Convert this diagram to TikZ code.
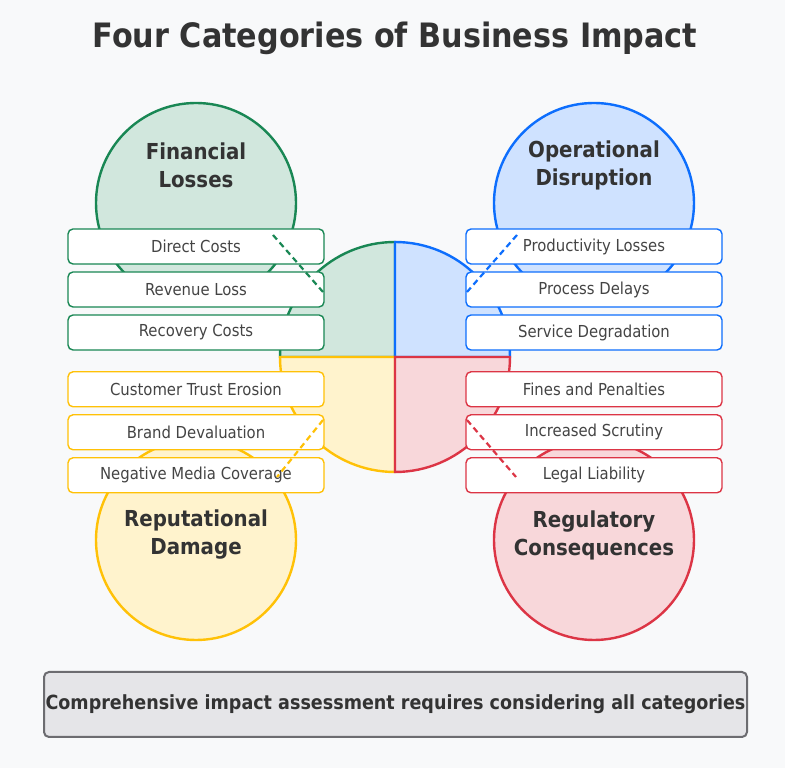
\documentclass[tikz,border=0pt]{standalone}
\usepackage{fontspec}
\setmainfont{DejaVu Sans Condensed}
\usepackage{xcolor}
\usetikzlibrary{positioning}
\definecolor{bgc}{HTML}{F8F9FA}
\definecolor{ink}{HTML}{333333}
\definecolor{txt}{HTML}{444444}
\definecolor{finln}{HTML}{198754}
\definecolor{finbg}{HTML}{D1E7DD}
\definecolor{opsln}{HTML}{0D6EFD}
\definecolor{opsbg}{HTML}{CFE2FF}
\definecolor{repln}{HTML}{FFC107}
\definecolor{repbg}{HTML}{FFF3CD}
\definecolor{regln}{HTML}{DC3545}
\definecolor{regbg}{HTML}{F8D7DA}
\definecolor{notebg}{HTML}{E5E5E8}
\definecolor{noteln}{HTML}{6C6C70}
\tikzset{
  cat/.style={circle,line width=2.4pt,minimum size=200pt,inner sep=0pt},
  lbl/.style={align=center,text=ink,font=\bfseries\fontsize{22}{28}\selectfont},
  itm/.style={draw,rounded corners=5pt,fill=white,line width=1.4pt,inner sep=0pt,
              minimum width=256pt,minimum height=35pt,text=txt,
              font=\fontsize{16.5}{18}\selectfont},
  sl/.style={line width=2.4pt},
  dl/.style={line width=2.2pt,dash pattern=on 6pt off 4pt},
}
\begin{document}
\begin{tikzpicture}[x=1pt,y=1pt,node distance=6.6pt]
\fill[bgc] (0,0) rectangle (785,768);
\useasboundingbox (0,0) rectangle (785,768);
% title
\node[text=ink,font=\bfseries\fontsize{33.6}{40}\selectfont] (title) at (395,730)
  {Four Categories of Business Impact};
% category circles
\node[cat,draw=finln,fill=finbg] (fin) at (196,565) {};
\node[cat,draw=opsln,fill=opsbg] (ops) at (594,565) {};
\node[cat,draw=repln,fill=repbg] (rep) at (196,228) {};
\node[cat,draw=regln,fill=regbg] (reg) at (594,228) {};
\node[lbl] (finl) at (196,603) {Financial\\Losses};
\node[lbl] (opsl) at (594,603) {Operational\\Disruption};
\node[lbl] (repl) at (196,233) {Reputational\\Damage};
\node[lbl] (regl) at (594,233) {Regulatory\\Consequences};
% central circle, one quarter per category
\coordinate (hub) at (395,411);
\draw[sl,draw=finln,fill=finbg] (hub) -- ++(180:115) arc[start angle=180,end angle=90,radius=115] -- cycle;
\draw[sl,draw=opsln,fill=opsbg] (hub) -- ++(90:115) arc[start angle=90,end angle=0,radius=115] -- cycle;
\draw[sl,draw=repln,fill=repbg] (hub) -- ++(180:115) arc[start angle=180,end angle=270,radius=115] -- cycle;
\draw[sl,draw=regln,fill=regbg] (hub) -- ++(270:115) arc[start angle=270,end angle=360,radius=115] -- cycle;
% impact items
\node[itm,draw=finln] (direct) at (196,521.5) {Direct Costs};
\node[itm,draw=finln,below=of direct] (revenue) {Revenue Loss};
\node[itm,draw=finln,below=of revenue] (recovery) {Recovery Costs};
\node[itm,draw=repln,below=20.4pt of recovery] (trust) {Customer Trust Erosion};
\node[itm,draw=repln,below=of trust] (brand) {Brand Devaluation};
\node[itm,draw=repln,below=of brand] (media) {Negative Media Coverage};
\node[itm,draw=opsln,right=140.6pt of direct] (product) {Productivity Losses};
\node[itm,draw=opsln,below=of product] (delay) {Process Delays};
\node[itm,draw=opsln,below=of delay] (service) {Service Degradation};
\node[itm,draw=regln,below=20.4pt of service] (fines) {Fines and Penalties};
\node[itm,draw=regln,below=of fines] (scrutiny) {Increased Scrutiny};
\node[itm,draw=regln,below=of scrutiny] (legal) {Legal Liability};
% dashed links
\coordinate (finA) at (273,533);
\coordinate (finB) at (323,476);
\coordinate (opsA) at (517,533);
\coordinate (opsB) at (467,476);
\coordinate (repA) at (323,348);
\coordinate (repB) at (277,291);
\coordinate (regA) at (467,348);
\coordinate (regB) at (516,291);
\draw[dl,finln] (finA) -- (finB);
\draw[dl,opsln] (opsA) -- (opsB);
\draw[dl,repln] (repA) -- (repB);
\draw[dl,regln] (regA) -- (regB);
% summary
\node[draw=noteln,fill=notebg,line width=2pt,rounded corners=5pt,inner sep=0pt,
      minimum width=703pt,minimum height=65pt,text=ink,
      font=\bfseries\fontsize{19.5}{23}\selectfont] (note) at (395.5,63.5)
  {Comprehensive impact assessment requires considering all categories};
\end{tikzpicture}
\end{document}
